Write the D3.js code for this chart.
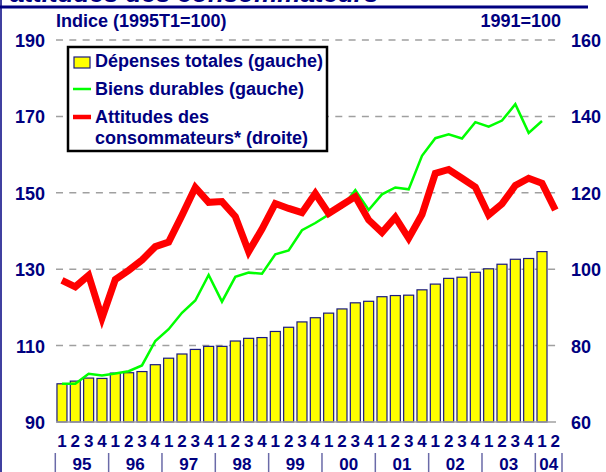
<!DOCTYPE html>
<meta charset="utf-8">
<script src="https://d3js.org/d3.v7.min.js"></script>
<style>
  body { margin: 0; background: #fff; }
  text { font-family: "Liberation Sans", Arial, sans-serif; font-weight: bold; fill: #000080; }
</style>
<svg id="chart" width="606" height="472"></svg>
<script>

  // Data
  var years = ["95", "96", "97", "98", "99", "00", "01", "02", "03", "04"];
  var quarterNums = ["1", "2", "3", "4"];
  // 1995T1 .. 2004T2
  var quarters = [];
  years.forEach(function(y) {
    quarterNums.forEach(function(q) {
      if (!(y === "04" && +q > 2)) quarters.push(y + "T" + q);
    });
  });

  // Dépenses totales (gauche), up to 2004T1
  var depenses = [100, 100.7, 101.5, 101.4, 102.8, 102.9, 103.2, 105.0, 106.7, 107.8,
    109.0, 109.8, 109.8, 111.2, 111.9, 112.1, 113.7, 114.8, 116.2, 117.3,
    118.5, 119.6, 121.2, 121.6, 122.8, 123.1, 123.2, 124.6, 126.1, 127.6,
    127.9, 129.2, 130.1, 131.3, 132.6, 132.8, 134.6];

  // Biens durables (gauche), up to 2004T1
  var durables = [100, 100, 102.6, 102.2, 102.7, 103.3, 104.8, 111.2, 114.3, 118.6,
    121.8, 128.5, 121.5, 128.0, 129.1, 128.8, 133.9, 134.9, 140.2, 142.1,
    144.3, 146.2, 150.7, 145.5, 149.6, 151.4, 150.9, 159.7, 164.3, 165.3,
    164.2, 168.5, 167.3, 168.9, 173.2, 165.7, 168.8];

  // Attitudes des consommateurs (droite, 1991=100), up to 2004T2
  var attitudes = [97.1, 95.4, 98.4, 87.2, 97.3, 99.7, 102.4, 105.9, 107.1, 114.1,
    121.4, 117.5, 117.7, 113.8, 104.6, 110.5, 117.2, 115.9, 114.8, 119.8,
    114.6, 116.8, 119.0, 112.9, 109.6, 113.6, 108.1, 114.3, 125.1, 126.1,
    123.8, 121.5, 114.2, 117.1, 121.9, 123.8, 122.5, 115.5];

  var leftTicks = [90, 110, 130, 150, 170, 190];
  var rightTicks = [60, 80, 100, 120, 140, 160];

  var navy = "#000080";
  var svg = d3.select("#chart");

  // Scales
  var x = d3.scaleBand()
    .domain(quarters)
    .range([55.3, 562])
    .paddingInner(0.25)
    .paddingOuter(0.125);
  var yL = d3.scaleLinear().domain([90, 190]).range([422, 40]);
  var yR = d3.scaleLinear().domain([60, 160]).range([422, 40]);
  var cx = function(i) { return x(quarters[i]) + x.bandwidth() / 2; };

  // Title remnant and frame
  svg.append("text")
    .attr("x", 10).attr("y", 2)
    .style("font-size", "26px").style("font-style", "italic")
    .text("attitudes des consommateurs");
  svg.append("line")
    .attr("x1", 0).attr("x2", 588).attr("y1", 7).attr("y2", 7)
    .attr("stroke", navy).attr("stroke-width", 3);
  svg.append("line")
    .attr("x1", 1).attr("x2", 1).attr("y1", 0).attr("y2", 472)
    .attr("stroke", navy).attr("stroke-width", 1.5);

  // Gridlines
  svg.append("g")
    .selectAll("line")
    .data(leftTicks.slice(1))
    .enter().append("line")
      .attr("x1", 56).attr("x2", 556)
      .attr("y1", function(d) { return yL(d); })
      .attr("y2", function(d) { return yL(d); })
      .attr("stroke", "#a0a0a0")
      .attr("stroke-width", 1.5)
      .attr("stroke-dasharray", "7,6.3");

  // Bars
  svg.append("g")
    .selectAll("rect")
    .data(depenses)
    .enter().append("rect")
      .attr("x", function(d, i) { return x(quarters[i]); })
      .attr("y", function(d) { return yL(d); })
      .attr("width", x.bandwidth())
      .attr("height", function(d) { return yL(90) - yL(d); })
      .attr("fill", "#ffff00")
      .attr("stroke", "#1a1a80")
      .attr("stroke-width", 1.2);

  // Baseline
  svg.append("line")
    .attr("x1", 56).attr("x2", 556).attr("y1", yL(90)).attr("y2", yL(90))
    .attr("stroke", "#a0a0a0").attr("stroke-width", 1.5);

  // Lines
  var lineL = d3.line().x(function(d, i) { return cx(i); }).y(function(d) { return yL(d); });
  var lineR = d3.line().x(function(d, i) { return cx(i); }).y(function(d) { return yR(d); });

  svg.append("path")
    .datum(durables)
    .attr("d", lineL)
    .attr("fill", "none")
    .attr("stroke", "#00ff00")
    .attr("stroke-width", 2.5);

  svg.append("path")
    .datum(attitudes)
    .attr("d", lineR)
    .attr("fill", "none")
    .attr("stroke", "#ff0000")
    .attr("stroke-width", 7)
    .attr("stroke-linejoin", "miter");

  // Left axis
  var axL = svg.append("g")
    .attr("transform", "translate(45,0)")
    .call(d3.axisLeft(yL).tickValues(leftTicks).tickSize(0).tickPadding(0));
  axL.select(".domain").remove();
  axL.selectAll("text")
    .style("font-size", "18px").style("font-family", null).attr("fill", null)
    .attr("dy", "0.36em");

  // Right axis
  var axR = svg.append("g")
    .attr("transform", "translate(571,0)")
    .call(d3.axisRight(yR).tickValues(rightTicks).tickSize(0).tickPadding(0));
  axR.select(".domain").remove();
  axR.selectAll("text")
    .style("font-size", "18px").style("font-family", null).attr("fill", null)
    .attr("dy", "0.36em");

  // Axis titles
  svg.append("text").attr("x", 56).attr("y", 27)
    .style("font-size", "18px").text("Indice (1995T1=100)");
  svg.append("text").attr("x", 561).attr("y", 27).attr("text-anchor", "end")
    .style("font-size", "18px").text("1991=100");

  // Quarter labels
  svg.append("g")
    .selectAll("text")
    .data(quarters)
    .enter().append("text")
      .attr("x", function(d, i) { return cx(i); })
      .attr("y", 447)
      .attr("text-anchor", "middle")
      .style("font-size", "17px")
      .text(function(d) { return d.split("T")[1]; });

  // Year labels and separators
  var yearSpans = years.map(function(y) {
    var qs = quarters.filter(function(q) { return q.indexOf(y + "T") === 0; });
    return { year: y, x0: x(qs[0]) - x.step() * x.paddingInner() / 2,
             x1: x(qs[qs.length - 1]) + x.bandwidth() + x.step() * x.paddingInner() / 2 };
  });
  svg.append("g")
    .selectAll("text")
    .data(yearSpans)
    .enter().append("text")
      .attr("x", function(d) { return (d.x0 + d.x1) / 2; })
      .attr("y", 470)
      .attr("text-anchor", "middle")
      .style("font-size", "17px")
      .text(function(d) { return d.year; });
  var seps = yearSpans.map(function(d) { return d.x0; }).concat([yearSpans[yearSpans.length - 1].x1]);
  svg.append("g")
    .selectAll("line")
    .data(seps)
    .enter().append("line")
      .attr("x1", function(d) { return d; }).attr("x2", function(d) { return d; })
      .attr("y1", 453).attr("y2", 472)
      .attr("stroke", "#6a6aa8").attr("stroke-width", 1.5);

  // Legend
  var lg = svg.append("g");
  lg.append("rect")
    .attr("x", 68).attr("y", 47).attr("width", 259).attr("height", 104)
    .attr("fill", "#fff").attr("stroke", "#000").attr("stroke-width", 2.5);
  lg.append("rect")
    .attr("x", 74).attr("y", 57).attr("width", 16).attr("height", 11)
    .attr("fill", "#ffff00").attr("stroke", "#1a1a80").attr("stroke-width", 1.2);
  lg.append("line").attr("x1", 73).attr("x2", 91).attr("y1", 89).attr("y2", 89)
    .attr("stroke", "#00ff00").attr("stroke-width", 2.5);
  lg.append("line").attr("x1", 73).attr("x2", 91).attr("y1", 117).attr("y2", 117)
    .attr("stroke", "#ff0000").attr("stroke-width", 4.5);
  var legendLines = [
    ["Dépenses totales (gauche)", 67],
    ["Biens durables (gauche)", 95],
    ["Attitudes des", 123],
    ["consommateurs* (droite)", 144]
  ];
  lg.selectAll("text.lt")
    .data(legendLines)
    .enter().append("text")
      .attr("class", "lt")
      .attr("x", 95)
      .attr("y", function(d) { return d[1]; })
      .style("font-size", "18px")
      .text(function(d) { return d[0]; });

</script>
